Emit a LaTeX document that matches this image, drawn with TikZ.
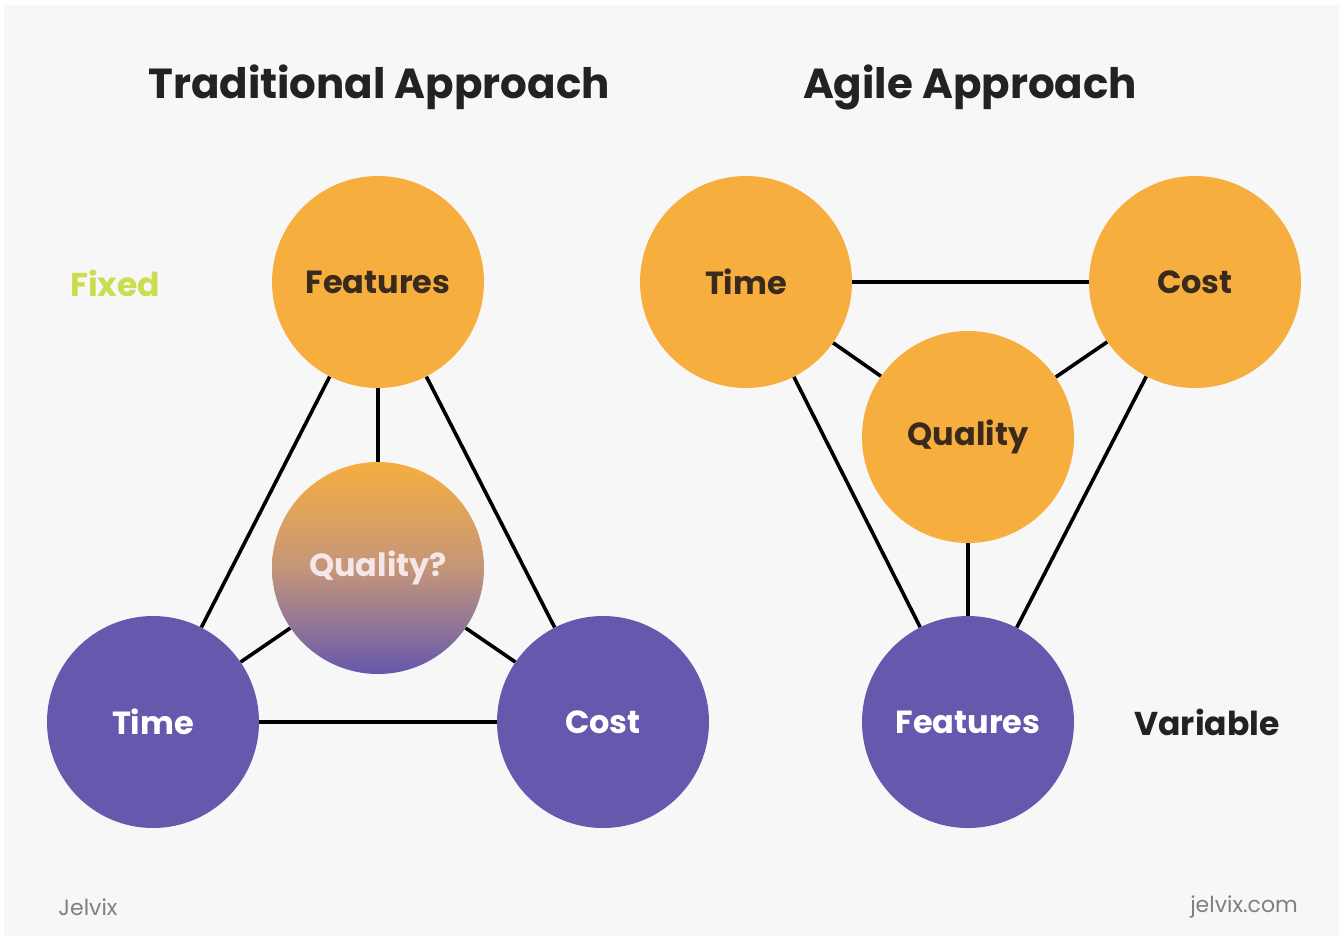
\documentclass[tikz,border=0pt]{standalone}
\usepackage{fontspec}
\setmainfont{Poppins}
\pgfdeclarelayer{bg}
\pgfdeclarelayer{lines}
\pgfsetlayers{bg,lines,main}
\definecolor{orng}{HTML}{F6AE3F}
\definecolor{purp}{HTML}{6558AD}
\definecolor{bgc}{HTML}{F7F7F7}
\definecolor{dtxt}{HTML}{3A2A1C}
\definecolor{ttl}{HTML}{222222}
\definecolor{fixc}{HTML}{CBDD4E}
\definecolor{qmid}{HTML}{C4967A}
\definecolor{qtxt}{HTML}{F5E6E8}
\begin{document}
\begin{tikzpicture}[x=1pt,y=-1pt,
  ball/.style={circle,inner sep=0pt,minimum size=212pt,font=\bfseries\fontsize{32}{32}\selectfont},
  obal/.style={ball,fill=orng,text=dtxt},
  pbal/.style={ball,fill=purp,text=white},
  link/.style={line width=3.6pt,black},
  title/.style={font=\bfseries\fontsize{42}{42}\selectfont,text=ttl},
  side/.style={font=\bfseries\fontsize{33}{33}\selectfont},
  small/.style={font=\fontsize{22}{22}\selectfont,text=gray}]
\useasboundingbox (0,0) rectangle (1343,940);
\begin{pgfonlayer}{bg}
\fill[white] (0,0) rectangle (1343,940);
\fill[bgc] (4,5) rectangle (1339,936);
\end{pgfonlayer}
% titles
\node[title] (t1) at (379,87) {Traditional Approach};
\node[title] (t2) at (970,87) {Agile Approach};
% traditional
\node[obal] (lf) at (378,282) {Features};
\node[ball,shade,top color=orng,bottom color=purp,middle color=qmid,text=qtxt] (lq) at (378,568) {Quality?};
\node[pbal] (lt) at (153,722) {Time};
\node[pbal] (lc) at (603,722) {Cost};
\node[side,text=fixc] (fx) at (115,283) {Fixed};
% agile
\node[obal] (rt) at (746,282) {Time};
\node[obal] (rc) at (1195,282) {Cost};
\node[obal] (rq) at (968,437) {Quality};
\node[pbal] (rf) at (968,722) {Features};
\node[side,text=ttl] (vr) at (1207,722) {Variable};
% footers
\node[small] (j1) at (88,907) {Jelvix};
\node[small] (j2) at (1244,907) {jelvix.com};
\begin{pgfonlayer}{lines}
\draw[link] (lf) -- (lt);
\draw[link] (lf) -- (lc);
\draw[link] (lf) -- (lq);
\draw[link] (lt) -- (lc);
\draw[link] (lq) -- (lt);
\draw[link] (lq) -- (lc);
\draw[link] (rt) -- (rc);
\draw[link] (rt) -- (rq);
\draw[link] (rc) -- (rq);
\draw[link] (rt) -- (rf);
\draw[link] (rc) -- (rf);
\draw[link] (rq) -- (rf);
\end{pgfonlayer}
\end{tikzpicture}
\end{document}
